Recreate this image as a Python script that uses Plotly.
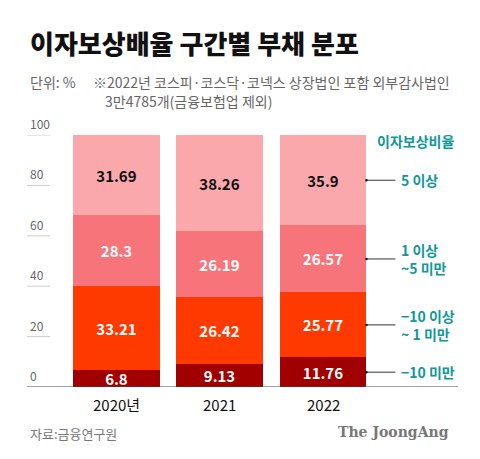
import plotly.graph_objects as go

years = ["2020년", "2021", "2022"]
series_names = ["−10 미만", "−10 이상<br>~ 1 미만", "1 이상<br>~5 미만", "5 이상"]
v_lt_m10 = [6.8, 9.13, 11.76]
v_m10_1 = [33.21, 26.42, 25.77]
v_1_5 = [28.3, 26.19, 26.57]
v_ge5 = [31.69, 38.26, 35.9]
y_ticks = [0, 20, 40, 60, 80, 100]

series = [v_lt_m10, v_m10_1, v_1_5, v_ge5]
colors = ["#A10000", "#FF3A00", "#F7747B", "#FBA8AD"]
text_colors = ["white", "white", "white", "#111111"]

FONT = "Noto Sans CJK KR"
TEAL = "#12979A"

# page body has an 8px default margin; lay out in reference pixels, then offset
OFF = 8
W, H = 480 - OFF, 459 - OFF
ML, MR, MT, MB = 27 - OFF, 30 - OFF, 135 - OFF, 72
PW, PH = W - ML - MR, H - MT - MB

xs = list(range(len(years)))
fig = go.Figure()
for vals, col, tc, nm in zip(series, colors, text_colors, series_names):
    fig.add_trace(go.Bar(
        x=xs, y=vals, name=nm, marker=dict(color=col, line=dict(width=0)),
        width=0.84,
        text=[f"<b>{v:g}</b>" for v in vals], textposition="inside",
        insidetextanchor="middle", textangle=0, constraintext="none",
        textfont=dict(family=FONT, size=15, color=tc),
        hoverinfo="skip",
    ))

x0 = -0.862
x1 = 3.305
ann = []
shapes = []
for t in y_ticks:
    ann.append(dict(x=x0, y=t, xref="x", yref="y", text=str(t), showarrow=False,
                    xanchor="left", yanchor="bottom", yshift=1, xshift=1,
                    font=dict(family=FONT, size=12, color="#666666")))
    if t > 0:
        shapes.append(dict(type="line", xref="x", yref="y", x0=x0, x1=x0 + 0.225, y0=t, y1=t,
                           line=dict(color="#CCCCCC", width=1)))
shapes.append(dict(type="line", xref="x", yref="y", x0=x0, x1=x1, y0=0, y1=0,
                   line=dict(color="#444444", width=1.2)))

last = len(years) - 1
cum = 0
bar_right = last + 0.42
for vals, nm in zip(series, series_names):
    mid = cum + vals[last] / 2
    cum += vals[last]
    shapes.append(dict(type="line", xref="x", yref="y", x0=bar_right, x1=bar_right + 0.28,
                       y0=mid, y1=mid, line=dict(color="#333333", width=1)))
    shapes.append(dict(type="circle", xref="x", yref="y", x0=bar_right - 0.012, x1=bar_right + 0.012,
                       y0=mid - 0.5, y1=mid + 0.5, fillcolor="#111111", line=dict(width=0)))
    ann.append(dict(x=bar_right + 0.31, y=mid, xref="x", yref="y", text=f"<b>{nm}</b>",
                    showarrow=False, xanchor="left", yanchor="middle", align="left",
                    font=dict(family=FONT, size=14, color=TEAL)))
ann.append(dict(x=bar_right + 0.08, y=97.5, xref="x", yref="y", text="<b>이자보상비율</b>",
                showarrow=False, xanchor="left", yanchor="middle",
                font=dict(family=FONT, size=14, color=TEAL)))

for i, yl in enumerate(years):
    ann.append(dict(x=i, y=0, xref="x", yref="y", text=yl, showarrow=False,
                    xanchor="center", yanchor="top", yshift=-5,
                    font=dict(family=FONT, size=15, color="#111111")))

def px(x, y):
    # x, y in reference-picture pixels
    return (x - OFF - ML) / PW, (H - MB - (y - OFF)) / PH

def label(x, y, text, size, color, family=FONT, anchor="left", weight=None):
    ax, ay = px(x, y)
    f = dict(family=family, size=size, color=color)
    if weight:
        f["weight"] = weight
    ann.append(dict(x=ax, y=ay, xref="paper", yref="paper", text=text,
                    showarrow=False, xanchor=anchor, yanchor="middle", font=f))

label(28, 43, "이자보상배율 구간별 부채 분포", 26, "#111111", weight=900)
label(28, 82, "단위: %", 14, "#666666")
label(91, 82, "※2022년 코스피·코스닥·코넥스 상장법인 포함 외부감사법인", 14, "#666666")
label(103, 101, "3만4785개(금융보험업 제외)", 14, "#666666")
label(28, 433, "자료:금융연구원", 13, "#777777")
label(451, 432, "<b>The JoongAng</b>", 14, "#777777", family="DejaVu Serif", anchor="right")

fig.update_layout(
    width=W, height=H, barmode="stack", showlegend=False,
    paper_bgcolor="white", plot_bgcolor="white",
    margin=dict(l=ML, r=MR, t=MT, b=MB, autoexpand=False),
    xaxis=dict(range=[x0, x1], visible=False, fixedrange=True),
    yaxis=dict(range=[0, 100], visible=False, fixedrange=True),
    annotations=ann, shapes=shapes, bargap=0,
)
fig.write_html("out.html", config=dict(displayModeBar=False))
